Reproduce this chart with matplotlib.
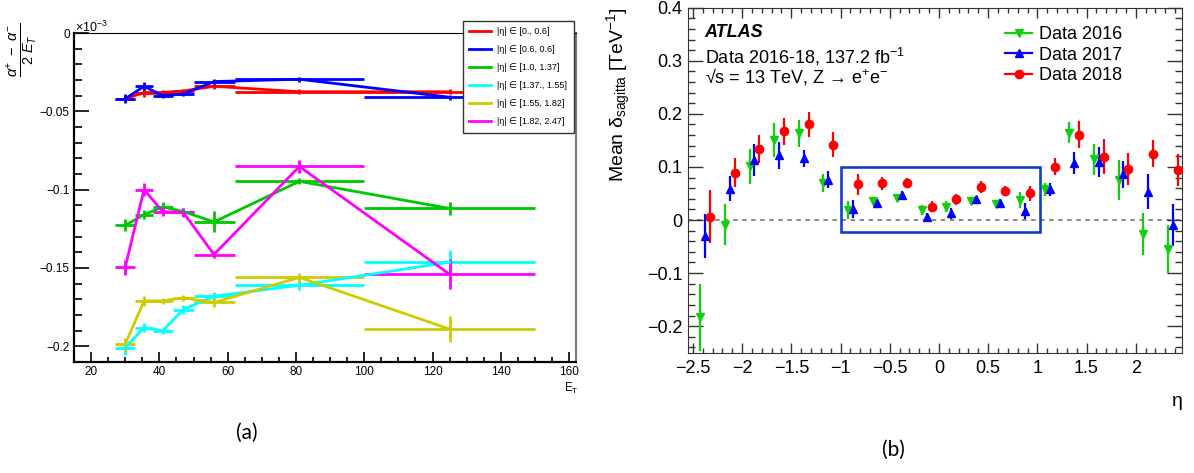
import numpy as np
import matplotlib
matplotlib.use("Agg")
import matplotlib.pyplot as plt
from matplotlib.patches import Rectangle
from matplotlib.lines import Line2D
from matplotlib.ticker import MultipleLocator, FuncFormatter

plt.rcParams['font.family'] = ['Liberation Sans', 'DejaVu Sans']
plt.rcParams['mathtext.fontset'] = 'custom'
plt.rcParams['mathtext.rm'] = 'Liberation Sans'
plt.rcParams['mathtext.it'] = 'Liberation Sans:italic'
plt.rcParams['mathtext.bf'] = 'Liberation Sans:bold'

# ---- panel (a): charge asymmetry vs E_T (values in units of 1e-3)
et = [30, 35.5, 41, 47, 56, 81, 125]
et_halfwidth = [3, 2.5, 3, 3, 6, 19, 25]

eta_bins = ["[0., 0.6]", "[0.6, 0.6]", "[1.0, 1.37]", "[1.37., 1.55]", "[1.55, 1.82]", "[1.82, 2.47]"]
bin_colors = ["#ff0000", "#0000ff", "#00c800", "#00ffff", "#cccc00", "#ff00ff"]

asym_0 = [-0.042, -0.038, -0.038, -0.037, -0.034, -0.0375, -0.0375]
asym_1 = [-0.042, -0.034, -0.040, -0.039, -0.031, -0.0295, -0.041]
asym_2 = [-0.1227, -0.116, -0.111, -0.114, -0.1206, -0.0947, -0.112]
asym_3 = [-0.2008, -0.188, -0.190, -0.1765, -0.168, -0.161, -0.1463]
asym_4 = [-0.1987, -0.171, -0.171, -0.169, -0.172, -0.156, -0.189]
asym_5 = [-0.1495, -0.100, -0.114, -0.1145, -0.1414, -0.0852, -0.154]

err_0 = [0.002, 0.0026, 0.0015, 0.0015, 0.002, 0.0015, 0.0015]
err_1 = [0.003, 0.0027, 0.0015, 0.0015, 0.0015, 0.0015, 0.0015]
err_2 = [0.0037, 0.003, 0.003, 0.002, 0.0067, 0.002, 0.004]
err_3 = [0.0045, 0.003, 0.002, 0.003, 0.003, 0.003, 0.008]
err_4 = [0.004, 0.003, 0.002, 0.002, 0.003, 0.003, 0.0085]
err_5 = [0.0048, 0.004, 0.003, 0.003, 0.002, 0.004, 0.0095]

asym = [asym_0, asym_1, asym_2, asym_3, asym_4, asym_5]
errs = [err_0, err_1, err_2, err_3, err_4, err_5]

# ---- panel (b): mean sagitta bias vs eta
eta_centers = [-2.375, -2.125, -1.875, -1.625, -1.375, -1.125, -0.875, -0.625, -0.375, -0.125,
               0.125, 0.375, 0.625, 0.875, 1.125, 1.375, 1.625, 1.875, 2.125, 2.375]

sag_2016 = [-0.183, -0.009, 0.101, 0.150, 0.163, 0.069, 0.019, 0.036, 0.042, 0.019,
            0.025, 0.036, 0.030, 0.0375, 0.0575, 0.1645, 0.114, 0.075, -0.026, -0.055]
sag_2017 = [-0.030, 0.059, 0.113, 0.122, 0.116, 0.076, 0.021, 0.0325, 0.047, 0.006,
            0.0125, 0.039, 0.0325, 0.017, 0.0575, 0.1075, 0.1095, 0.086, 0.053, -0.009]
sag_2018 = [0.006, 0.089, 0.134, 0.167, 0.180, 0.142, 0.067, 0.069, 0.070, 0.025,
            0.039, 0.0625, 0.0544, 0.050, 0.100, 0.161, 0.119, 0.0957, 0.125, 0.095]

sag_err_2016 = [0.063, 0.039, 0.033, 0.032, 0.025, 0.017, 0.017, 0.008, 0.007, 0.01,
                0.01, 0.006, 0.008, 0.015, 0.013, 0.02, 0.03, 0.038, 0.04, 0.045]
sag_err_2017 = [0.042, 0.023, 0.030, 0.025, 0.016, 0.016, 0.017, 0.008, 0.008, 0.008,
                0.01, 0.006, 0.007, 0.015, 0.013, 0.02, 0.028, 0.026, 0.033, 0.04]
sag_err_2018 = [0.05, 0.027, 0.027, 0.025, 0.023, 0.023, 0.02, 0.012, 0.01, 0.01,
                0.01, 0.011, 0.01, 0.014, 0.016, 0.025, 0.033, 0.03, 0.025, 0.03]

years = ['Data 2016', 'Data 2017', 'Data 2018']
year_colors = ['#10d010', '#0000ff', '#ff0000']
year_markers = ['v', '^', 'o']

box_eta = (-1.0, 1.03)
box_val = (-0.023, 0.1)


def fmt(v, pos):
    return f"{v:g}".replace("-", "\u2212")


W, H = 1194, 473
fig = plt.figure(figsize=(W / 100, H / 100), dpi=100)

# panel (a)
axa = fig.add_axes([74 / W, 1 - 362 / H, 502 / W, 329 / H])
for i in range(len(eta_bins)):
    axa.errorbar(et, asym[i], xerr=et_halfwidth, yerr=errs[i], color=bin_colors[i],
                 lw=2, elinewidth=2, capsize=0)
axa.set_xlim(15, 162)
axa.set_ylim(-0.21, 0)
axa.xaxis.set_major_locator(MultipleLocator(20))
axa.xaxis.set_minor_locator(MultipleLocator(5))
axa.yaxis.set_major_locator(MultipleLocator(0.05))
axa.yaxis.set_minor_locator(MultipleLocator(0.01))
axa.xaxis.set_major_formatter(FuncFormatter(fmt))
axa.yaxis.set_major_formatter(FuncFormatter(fmt))
axa.tick_params(which='both', direction='in', labelsize=8.5, width=1.2)
axa.tick_params(axis='y', which='major', length=10.5, pad=3)
axa.tick_params(axis='y', which='minor', length=5.5)
axa.tick_params(axis='x', which='major', length=7, pad=3)
axa.tick_params(axis='x', which='minor', length=3.5)
for s in ['left', 'bottom']:
    axa.spines[s].set_linewidth(1.6)
axa.spines['right'].set_color('#777777')
axa.spines['right'].set_linewidth(1.5)

handles_a = [Line2D([], [], color=c, lw=2) for c in bin_colors]
labels_a = ["|\u03b7| \u2208 " + b for b in eta_bins]
fig.legend(handles_a, labels_a, loc='upper left', bbox_to_anchor=(463 / W, 1 - 21 / H),
           bbox_transform=fig.transFigure, fontsize=6.5, frameon=True, fancybox=False,
           edgecolor='#333333', framealpha=1, borderaxespad=0, borderpad=0.7,
           labelspacing=1.0, handlelength=2.4, handletextpad=0.7)

fig.text(22 / W, 1 - 50 / H, r'$\frac{\alpha^{+}\ -\ \alpha^{-}}{2\ E_{T}}$', rotation=90,
         ha='center', va='center', fontsize=15)
fig.text(75 / W, 1 - 27 / H, r'$\times10^{-3}$', ha='left', va='center', fontsize=9)
fig.text(571 / W, 1 - 388 / H, r'E$_{\mathrm{T}}$', ha='center', va='center', fontsize=8.5)
fig.text(247 / W, 1 - 433 / H, '(a)', ha='center', va='center', fontsize=15, family='Lato')

# panel (b)
axb = fig.add_axes([688 / W, 1 - 352.7 / H, 494 / W, 345 / H])
eta = np.array(eta_centers)
axb.axhline(0, color='#808080', lw=1.3, ls=(0, (2.5, 2.5)), zorder=1)
axb.add_patch(Rectangle((box_eta[0], box_val[0]), box_eta[1] - box_eta[0], box_val[1] - box_val[0],
                        fill=False, edgecolor='#1040c8', lw=1.9, zorder=2))
sag = [sag_2016, sag_2017, sag_2018]
sag_err = [sag_err_2016, sag_err_2017, sag_err_2018]
for k in range(3):
    axb.errorbar(eta + 0.05 * (k - 1), sag[k], yerr=sag_err[k], fmt=year_markers[k],
                 color=year_colors[k], ms=6, elinewidth=1.6, capsize=0, zorder=3)
axb.set_xlim(-2.55, 2.47)
axb.set_ylim(-0.25, 0.4)
axb.xaxis.set_major_locator(MultipleLocator(0.5))
axb.xaxis.set_minor_locator(MultipleLocator(0.1))
axb.yaxis.set_major_locator(MultipleLocator(0.1))
axb.yaxis.set_minor_locator(MultipleLocator(0.02))
axb.xaxis.set_major_formatter(FuncFormatter(fmt))
axb.yaxis.set_major_formatter(FuncFormatter(fmt))
axb.tick_params(which='both', direction='in', top=True, right=True, labelsize=13, width=1, color='#333333')
axb.tick_params(axis='y', which='major', length=10.5, pad=4)
axb.tick_params(axis='y', which='minor', length=5)
axb.tick_params(axis='x', which='major', length=7.5, pad=5)
axb.tick_params(axis='x', which='minor', length=3.8)
for s in axb.spines.values():
    s.set_color('#333333')

handles_b = [Line2D([], [], color=year_colors[k], marker=year_markers[k], ms=6, lw=1.6)
             for k in range(3)]
axb.legend(handles_b, years, loc='upper left', bbox_to_anchor=(1005 / W, 1 - 26 / H),
           bbox_transform=fig.transFigure, fontsize=13, frameon=False, borderaxespad=0,
           borderpad=0, labelspacing=0.2, handlelength=1.5, handletextpad=0.4)

axb.text(0.034, 0.927, 'ATLAS', transform=axb.transAxes, fontsize=13, fontweight='bold',
         fontstyle='italic', ha='left', va='center')
axb.text(0.034, 0.857, r'Data 2016-18, 137.2 fb$^{\mathregular{-1}}$', transform=axb.transAxes,
         fontsize=13, ha='left', va='center')
axb.text(0.034, 0.801, '\u221as = 13 TeV, Z \u2192 e$^{+}$e$^{-}$', transform=axb.transAxes,
         fontsize=13, ha='left', va='center')
axb.text(-0.14, 1.0, r'Mean $\mathregular{\delta}_{\mathregular{sagitta}}$ [TeV$^{\mathregular{-1}}$]',
         transform=axb.transAxes, rotation=90, ha='center', va='top', fontsize=14)
fig.text(1177 / W, 1 - 402 / H, '\u03b7', ha='center', va='center', fontsize=14)
fig.text(893 / W, 1 - 450 / H, '(b)', ha='center', va='center', fontsize=15, family='Lato')

fig.savefig('out.png', dpi=100)
